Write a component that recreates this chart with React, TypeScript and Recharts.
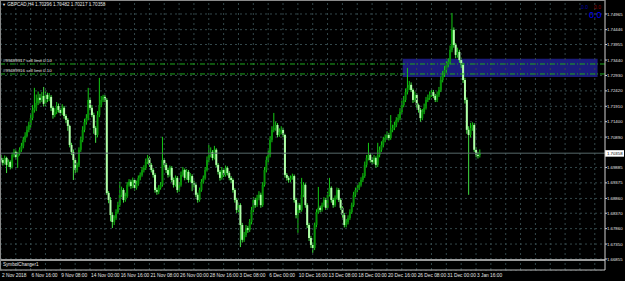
import React from 'react';
import { ComposedChart, Bar, XAxis, YAxis, CartesianGrid, ReferenceLine, ReferenceArea } from 'recharts';

const firstOpen = 1.7020;
const closes = [
  1.7013, 1.7004, 1.7020, 1.6997, 1.7007, 1.6990, 1.7030, 1.7040, 1.7023, 1.7033,
  1.7047, 1.7060, 1.7080, 1.7093, 1.7113, 1.7129, 1.7152, 1.7179, 1.7186, 1.7202,
  1.7219, 1.7212, 1.7225, 1.7199, 1.7229, 1.7215, 1.7222, 1.7186, 1.7162, 1.7172,
  1.7192, 1.7179, 1.7169, 1.7186, 1.7159, 1.7146, 1.7126, 1.7063, 1.7040, 1.7013,
  1.6980, 1.6997, 1.7047, 1.7080, 1.7113, 1.7139, 1.7152, 1.7212, 1.7186, 1.7162,
  1.7119, 1.7096, 1.7162, 1.7195, 1.7212, 1.7222, 1.7212, 1.6904, 1.6881, 1.6831,
  1.6808, 1.6821, 1.6841, 1.6864, 1.6898, 1.6914, 1.6881, 1.6894, 1.6931, 1.6941,
  1.6927, 1.6947, 1.6921, 1.6934, 1.6954, 1.6964, 1.6980, 1.6987, 1.7007, 1.7020,
  1.6997, 1.6980, 1.6964, 1.6914, 1.6908, 1.6921, 1.6931, 1.7013, 1.6997, 1.6980,
  1.6964, 1.6987, 1.6947, 1.6931, 1.6954, 1.6914, 1.6931, 1.6964, 1.6980, 1.6954,
  1.6974, 1.6947, 1.6960, 1.6937, 1.6931, 1.6898, 1.6881, 1.6914, 1.6941, 1.6954,
  1.6980, 1.7013, 1.7030, 1.7040, 1.7020, 1.7047, 1.6997, 1.6974, 1.6954, 1.6980,
  1.6964, 1.6987, 1.6970, 1.6954, 1.6947, 1.6914, 1.6881, 1.6848, 1.6864, 1.6798,
  1.6749, 1.6765, 1.6788, 1.6782, 1.6808, 1.6848, 1.6881, 1.6864, 1.6888, 1.6898,
  1.6864, 1.6931, 1.6980, 1.7013, 1.7030, 1.7080, 1.7113, 1.7119, 1.7129, 1.7096,
  1.7106, 1.7113, 1.7096, 1.6964, 1.6954, 1.6947, 1.6954, 1.6960, 1.6881, 1.6831,
  1.6864, 1.6848, 1.6898, 1.6931, 1.6864, 1.6798, 1.6755, 1.6732, 1.6722, 1.6798,
  1.6841, 1.6855, 1.6848, 1.6864, 1.6881, 1.6855, 1.6898, 1.6921, 1.6881, 1.6864,
  1.6888, 1.6914, 1.6881, 1.6855, 1.6831, 1.6798, 1.6808, 1.6821, 1.6841, 1.6864,
  1.6898, 1.6914, 1.6921, 1.6931, 1.6947, 1.6960, 1.6997, 1.7020, 1.7030, 1.7013,
  1.7007, 1.7020, 1.6997, 1.7030, 1.7047, 1.7063, 1.7080, 1.7086, 1.7096, 1.7086,
  1.7113, 1.7119, 1.7129, 1.7146, 1.7152, 1.7172, 1.7195, 1.7212, 1.7238, 1.7252,
  1.7262, 1.7245, 1.7212, 1.7229, 1.7195, 1.7179, 1.7152, 1.7172, 1.7186, 1.7212,
  1.7219, 1.7229, 1.7238, 1.7225, 1.7212, 1.7229, 1.7245, 1.7278, 1.7295, 1.7311,
  1.7328, 1.7338, 1.7378, 1.7444, 1.7394, 1.7361, 1.7371, 1.7344, 1.7328, 1.7278,
  1.7212, 1.7113, 1.7096, 1.7119, 1.7129, 1.7047, 1.7030, 1.70296, 1.70358,
];
const highs = [
  1.7030, 1.7020, 1.7028, 1.7024, 1.7015, 1.7012, 1.7038, 1.7050, 1.7045, 1.7040,
  1.7055, 1.7070, 1.7090, 1.7105, 1.7125, 1.7140, 1.7165, 1.7195, 1.7252, 1.7230,
  1.7240, 1.7232, 1.7238, 1.7255, 1.7240, 1.7236, 1.7235, 1.7228, 1.7192, 1.7185,
  1.7205, 1.7200, 1.7186, 1.7198, 1.7192, 1.7165, 1.7152, 1.7130, 1.7070, 1.7048,
  1.7020, 1.7005, 1.7055, 1.7090, 1.7125, 1.7150, 1.7165, 1.7252, 1.7220, 1.7195,
  1.7170, 1.7125, 1.7175, 1.7285, 1.7225, 1.7229, 1.7228, 1.7218, 1.6910, 1.6890,
  1.6840, 1.6830, 1.6850, 1.6875, 1.6941, 1.6925, 1.6920, 1.6905, 1.6940, 1.6950,
  1.6948, 1.6955, 1.6952, 1.6945, 1.6962, 1.6972, 1.6990, 1.6996, 1.7018, 1.7030,
  1.7025, 1.7003, 1.6986, 1.6970, 1.6922, 1.6930, 1.6940, 1.7090, 1.7020, 1.7003,
  1.6988, 1.6995, 1.6993, 1.6955, 1.6962, 1.6960, 1.6940, 1.6975, 1.6990, 1.6985,
  1.6983, 1.6980, 1.6970, 1.6966, 1.6945, 1.6936, 1.6905, 1.6922, 1.6950, 1.6962,
  1.6990, 1.7025, 1.7063, 1.7055, 1.7046, 1.7060, 1.7052, 1.7003, 1.6980, 1.6990,
  1.6985, 1.6995, 1.6992, 1.6976, 1.6960, 1.6952, 1.6920, 1.6888, 1.6872, 1.6870,
  1.6805, 1.6775, 1.6798, 1.6795, 1.6818, 1.6858, 1.6890, 1.6888, 1.6898, 1.6910,
  1.6905, 1.6940, 1.6990, 1.7025, 1.7045, 1.7092, 1.7125, 1.7169, 1.7140, 1.7135,
  1.7118, 1.7125, 1.7120, 1.7100, 1.6970, 1.6960, 1.6962, 1.6968, 1.6965, 1.6888,
  1.6872, 1.6870, 1.6954, 1.6940, 1.6936, 1.6870, 1.6805, 1.6762, 1.6740, 1.6806,
  1.6850, 1.6924, 1.6862, 1.6872, 1.6890, 1.6888, 1.6908, 1.6954, 1.6926, 1.6888,
  1.6896, 1.6922, 1.6920, 1.6886, 1.6860, 1.6838, 1.6818, 1.6830, 1.6850, 1.6872,
  1.6908, 1.6922, 1.6930, 1.6940, 1.6956, 1.6970, 1.7008, 1.7030, 1.7070, 1.7036,
  1.7022, 1.7030, 1.7025, 1.7070, 1.7058, 1.7075, 1.7090, 1.7098, 1.7108, 1.7103,
  1.7162, 1.7130, 1.7140, 1.7155, 1.7165, 1.7185, 1.7210, 1.7225, 1.7250, 1.7318,
  1.7275, 1.7270, 1.7250, 1.7240, 1.7235, 1.7200, 1.7185, 1.7182, 1.7200, 1.7222,
  1.7230, 1.7240, 1.7250, 1.7245, 1.7232, 1.7240, 1.7255, 1.7290, 1.7308, 1.7325,
  1.7340, 1.7350, 1.7392, 1.7500, 1.7452, 1.7400, 1.7385, 1.7378, 1.7352, 1.7335,
  1.7285, 1.7220, 1.7125, 1.7136, 1.7138, 1.7135, 1.7055, 1.7040, 1.70482,
];
const lows = [
  1.7005, 1.6995, 1.6998, 1.6970, 1.6990, 1.6982, 1.6985, 1.7022, 1.7015, 1.6987,
  1.7028, 1.7040, 1.7052, 1.7072, 1.7088, 1.7105, 1.7120, 1.7145, 1.7170, 1.7175,
  1.7195, 1.7200, 1.7205, 1.7190, 1.7192, 1.7205, 1.7208, 1.7175, 1.7150, 1.7155,
  1.7165, 1.7170, 1.7160, 1.7162, 1.7150, 1.7135, 1.7110, 1.7055, 1.7030, 1.6947,
  1.6970, 1.6972, 1.6990, 1.7040, 1.7072, 1.7105, 1.7130, 1.7145, 1.7178, 1.7155,
  1.7100, 1.7070, 1.7088, 1.7155, 1.7188, 1.7205, 1.7205, 1.6898, 1.6870, 1.6810,
  1.6788, 1.6798, 1.6815, 1.6835, 1.6858, 1.6890, 1.6872, 1.6875, 1.6888, 1.6925,
  1.6918, 1.6920, 1.6912, 1.6915, 1.6928, 1.6946, 1.6958, 1.6972, 1.6980, 1.7000,
  1.6990, 1.6972, 1.6955, 1.6905, 1.6898, 1.6900, 1.6915, 1.6925, 1.6988, 1.6970,
  1.6955, 1.6958, 1.6940, 1.6922, 1.6925, 1.6905, 1.6908, 1.6925, 1.6958, 1.6946,
  1.6948, 1.6938, 1.6940, 1.6910, 1.6922, 1.6890, 1.6872, 1.6875, 1.6908, 1.6935,
  1.6948, 1.6975, 1.7005, 1.7022, 1.7012, 1.7015, 1.6990, 1.6965, 1.6945, 1.6948,
  1.6957, 1.6958, 1.6962, 1.6946, 1.6938, 1.6905, 1.6872, 1.6838, 1.6840, 1.6725,
  1.6740, 1.6742, 1.6758, 1.6772, 1.6775, 1.6800, 1.6840, 1.6855, 1.6858, 1.6880,
  1.6855, 1.6858, 1.6925, 1.6972, 1.7005, 1.7022, 1.7072, 1.7105, 1.7110, 1.7088,
  1.7090, 1.7098, 1.7088, 1.6955, 1.6945, 1.6938, 1.6940, 1.6948, 1.6872, 1.6820,
  1.6772, 1.6838, 1.6842, 1.6890, 1.6855, 1.6788, 1.6745, 1.6722, 1.6706, 1.6715,
  1.6790, 1.6835, 1.6840, 1.6842, 1.6858, 1.6848, 1.6850, 1.6892, 1.6872, 1.6855,
  1.6858, 1.6882, 1.6874, 1.6848, 1.6822, 1.6790, 1.6790, 1.6800, 1.6815, 1.6835,
  1.6858, 1.6890, 1.6906, 1.6914, 1.6925, 1.6940, 1.6954, 1.6990, 1.7012, 1.7005,
  1.6998, 1.7000, 1.6988, 1.6990, 1.7022, 1.7040, 1.7055, 1.7072, 1.7080, 1.7078,
  1.7080, 1.7105, 1.7112, 1.7122, 1.7138, 1.7145, 1.7165, 1.7188, 1.7205, 1.7230,
  1.7245, 1.7238, 1.7202, 1.7205, 1.7186, 1.7170, 1.7140, 1.7145, 1.7165, 1.7180,
  1.7205, 1.7212, 1.7222, 1.7218, 1.7205, 1.7205, 1.7222, 1.7238, 1.7270, 1.7288,
  1.7302, 1.7320, 1.7330, 1.7370, 1.7385, 1.7350, 1.7352, 1.7335, 1.7318, 1.7268,
  1.7200, 1.7100, 1.6898, 1.7088, 1.7110, 1.7040, 1.7022, 1.7018, 1.70217,
];

const timeLabels = [
  '2 Nov 2018', '6 Nov 16:00', '9 Nov 08:00', '14 Nov 00:00', '16 Nov 16:00', '21 Nov 08:00',
  '26 Nov 00:00', '28 Nov 16:00', '3 Dec 08:00', '6 Dec 00:00', '10 Dec 16:00', '13 Dec 08:00',
  '18 Dec 00:00', '20 Dec 16:00', '26 Dec 08:00', '31 Dec 00:00', '3 Jan 16:00',
];
const priceTicks = [
  1.74965, 1.74446, 1.73955, 1.73440, 1.72930, 1.72420, 1.71910, 1.71400, 1.70890,
  1.69885, 1.69375, 1.68860, 1.68370, 1.67860, 1.67350, 1.66855,
];
const sellLimits = [
  { price: 1.7331, label: '#99489917 sell limit 0.10' },
  { price: 1.7298, label: '#99489916 sell limit 0.10' },
];
const zone = { from: 217, to: 321, low: 1.7288, high: 1.7348 };
const bid = 1.70358;
const title = 'GBPCAD,H4 1.70296 1.70482 1.70217 1.70358';

const TOTAL_SLOTS = 326;
const LABEL_EVERY = 16;
const GRID_EVERY = 8;
const Y_DOMAIN: [number, number] = [1.66491, 1.75428];
const SEPARATOR = 1.66822;

const data: any[] = [];
for (let i = 0; i < TOTAL_SLOTS; i++) {
  if (i < closes.length) {
    const open = i === 0 ? firstOpen : closes[i - 1];
    data.push({ i, open, close: closes[i], high: highs[i], low: lows[i], range: [lows[i], highs[i]] });
  } else {
    data.push({ i, range: null });
  }
}
const gridIdx: number[] = [];
for (let i = 0; i < TOTAL_SLOTS; i += GRID_EVERY) gridIdx.push(i);

const FONT = '"Liberation Sans", Arial, sans-serif';
const BULL_BODY = '#079307';
const BULL_WICK = '#14c814';
const BEAR_BODY = '#b0ffa8';
const BEAR_WICK = '#44e044';

const Candle = (props: any) => {
  const { x, y, width, height, payload } = props;
  if (!payload || payload.close == null || height == null) return <g />;
  const { open, close, high, low } = payload;
  const span = high - low;
  const k = span > 0 ? height / span : 0;
  const yO = y + (high - open) * k;
  const yC = y + (high - close) * k;
  const up = close >= open;
  const cx = x + width / 2;
  const top = Math.min(yO, yC);
  const bh = Math.max(1, Math.abs(yO - yC));
  return (
    <g>
      <line x1={cx} x2={cx} y1={y} y2={y + height} stroke={up ? BULL_WICK : BEAR_WICK} strokeWidth={1} />
      <rect x={cx - 1} y={top} width={2} height={bh} fill={up ? BULL_BODY : BEAR_BODY} />
    </g>
  );
};

const XTick = (props: any) => {
  const { x, y, payload } = props;
  const idx = payload.value / LABEL_EVERY;
  const label = Number.isInteger(idx) ? timeLabels[idx] : undefined;
  if (!label) return <g />;
  return (
    <text x={x + 1} y={y + 6.5} fill="#e6e6e6" fontSize={4.8} fontFamily={FONT} textAnchor="start">
      {label}
    </text>
  );
};

const YTick = (props: any) => {
  const { x, y, payload } = props;
  return (
    <text x={x} y={y + 1.6} fill="#e6e6e6" fontSize={4.3} fontFamily={FONT} textAnchor="start">
      {payload.value.toFixed(5)}
    </text>
  );
};

const BidLabel = (props: any) => {
  const vb = props.viewBox || {};
  const x = (vb.x || 0) + (vb.width || 0);
  const y = vb.y || 0;
  return (
    <g>
      <rect x={x} y={y - 3} width={19} height={6.5} fill="#ffffff" />
      <text x={x + 2} y={y + 1.6} fill="#000" fontSize={4.3} fontFamily={FONT}>{bid.toFixed(5)}</text>
    </g>
  );
};

const LimitLabel = (text: string) => (props: any) => {
  const vb = props.viewBox || {};
  return (
    <text x={(vb.x || 0) + 3} y={(vb.y || 0) - 1.5} fill="#e0e0e0" fontSize={4.4} fontFamily={FONT}>{text}</text>
  );
};

export default function App() {
  return (
    <div style={{ position: 'relative', width: 625, height: 281, background: '#000', overflow: 'hidden' }}>
      <style>{'body{margin:0;background:#000;}'}</style>
      <ComposedChart width={625} height={281} data={data} margin={{ top: 0, right: 0, bottom: 0, left: 0 }} barCategoryGap={0}>
        <ReferenceArea x1={zone.from} x2={zone.to} y1={zone.low} y2={zone.high} fill="#1c1c7c" fillOpacity={1} stroke="none" />
        <CartesianGrid vertical={false} stroke="#33474a" strokeDasharray="2 3" />
        {gridIdx.map((g) => (
          <ReferenceLine key={'g' + g} x={g} stroke="#33474a" strokeDasharray="2 3" />
        ))}
        <XAxis
          dataKey="i"
          type="category"
          interval={LABEL_EVERY - 1}
          height={11}
          tick={<XTick />}
          tickLine={false}
          tickSize={0}
          tickMargin={0}
          axisLine={{ stroke: '#bdbdbd' }}
        />
        <YAxis
          orientation="right"
          width={20}
          domain={Y_DOMAIN}
          allowDataOverflow
          ticks={priceTicks}
          interval={0}
          tick={<YTick />}
          tickLine={{ stroke: '#cfcfcf' }}
          tickSize={2}
          tickMargin={0}
          axisLine={{ stroke: '#cfcfcf' }}
        />
        <ReferenceLine y={bid} stroke="#56686a" strokeWidth={1} label={<BidLabel />} />
        {sellLimits.map((s) => (
          <ReferenceLine key={s.label} y={s.price} stroke="#1ea81e" strokeDasharray="5 2 1 2" label={LimitLabel(s.label)} />
        ))}
        <Bar dataKey="range" shape={<Candle />} isAnimationActive={false} />
        <ReferenceArea y1={Y_DOMAIN[0]} y2={SEPARATOR} fill="#000" fillOpacity={1} stroke="none" />
        <ReferenceLine y={SEPARATOR} stroke="#9a9a9a" strokeWidth={2} />
      </ComposedChart>
      <div style={{ position: 'absolute', left: 0, top: 0, width: 605, height: 1, background: '#8a8a8a' }} />
      <div style={{ position: 'absolute', left: 0, top: 0, width: 1, height: 270, background: '#8a8a8a' }} />
      <div style={{ position: 'absolute', left: 2, top: 1, fontFamily: FONT, fontSize: 4.6, color: '#e6e6e6', whiteSpace: 'nowrap', lineHeight: '7px' }}>
        <span style={{ fontSize: 4 }}>▼</span> {title}
      </div>
      <div style={{ position: 'absolute', left: 3, top: 262, fontFamily: FONT, fontSize: 4.6, color: '#e6e6e6', lineHeight: '6px' }}>
        SymbolChanger1
      </div>
      <div style={{ position: 'absolute', left: 581, top: 4, fontFamily: FONT, fontSize: 5, color: '#0000b0', lineHeight: '6px' }}>0.0</div>
      <div style={{ position: 'absolute', left: 594, top: 4, fontFamily: FONT, fontSize: 5, color: '#8b0000', lineHeight: '6px' }}>0.0</div>
      <div style={{ position: 'absolute', left: 589, top: 10, fontFamily: FONT, fontSize: 9, color: '#0000ff', lineHeight: '10px' }}>0.0</div>
    </div>
  );
}
